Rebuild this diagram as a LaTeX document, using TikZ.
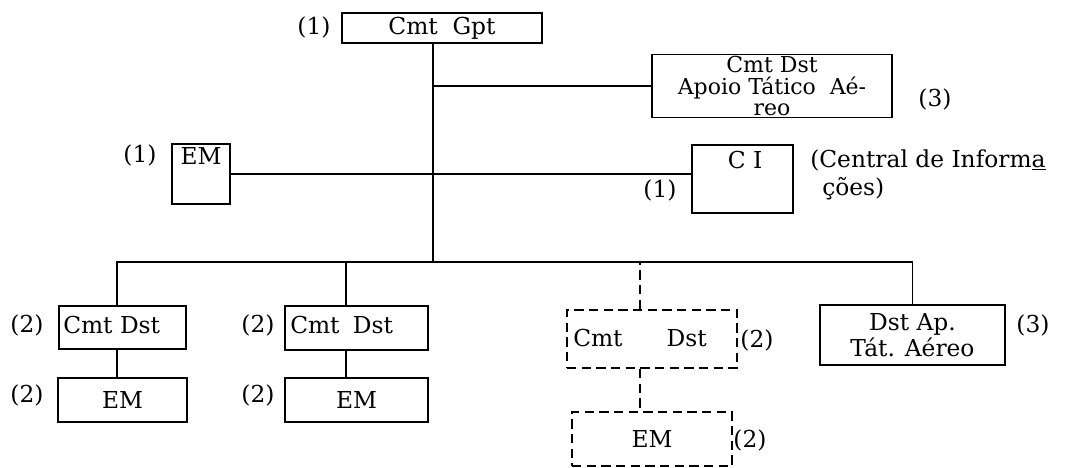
\documentclass[tikz,border=0pt]{standalone}
\usepackage{fontspec}
\setmainfont{DejaVu Serif}

\begin{document}
\begin{tikzpicture}[x=0.75pt,y=-0.75pt,
        font=\fontsize{17.5}{20}\selectfont,
        box/.style={draw, line width=1.2pt, inner sep=0pt},
        dbox/.style={box, line width=1.7pt, dash pattern=on 7pt off 4pt},
        wire/.style={line width=1.2pt},
        dwire/.style={line width=1.7pt, dash pattern=on 7pt off 4pt},
        tag/.style={inner sep=0pt}]
    \useasboundingbox (0,0) rectangle (1065,468);

    % command post and its staff
    \node[box, minimum width=150pt, minimum height=22.5pt] (gpt) at (442,28) {Cmt\ \ Gpt};
    \node[box, minimum width=180pt, minimum height=47pt, align=center,
          font=\fontsize{16.5}{16}\selectfont] (apoio) at (772,86) {Cmt Dst\\Apoio Tático\ \ Aé-\\reo};
    \node[box, minimum width=43.5pt, minimum height=45pt] (em0) at (201,174) {};
    \node[box, minimum width=75.75pt, minimum height=51pt] (ci) at (742.5,179) {};
    \node (em0t) at (201,156) {EM};
    \node (cit) at (745,160) {C I};

    \node[tag] (tgpt) at (314,27) {(1)};
    \node[tag] (tapoio) at (935,99) {(3)};
    \node[tag] (tem0) at (140,155) {(1)};
    \node[tag] (tci) at (660,190) {(1)};
    \node[tag, anchor=west] (cinfo) at (810,160) {(Central de Inform\underline{a}};
    \node[tag, anchor=west] (cinfob) at (822,189) {ções)};

    % detachments
    \node[box, minimum width=95.25pt, minimum height=32.25pt] (cd1) at (122.5,327.5) {};
    \node[box, minimum width=96.75pt, minimum height=33pt] (em1) at (122.5,400) {EM};
    \node[box, minimum width=107.25pt, minimum height=33pt] (cd2) at (356.5,328) {};
    \node[box, minimum width=107.25pt, minimum height=33pt] (em2) at (356.5,400) {EM};
    \node[dbox, minimum width=127.5pt, minimum height=43.5pt] (cd3) at (652,339) {};
    \node[dbox, minimum width=120pt, minimum height=40.5pt] (em3) at (652,439) {EM};
    \node[box, minimum width=138.75pt, minimum height=45pt, align=center] (dap) at (912.5,335) {Dst Ap.\\Tát. Aéreo};
    \node[anchor=west, inner sep=0pt] (cd1t) at (63,325) {Cmt Dst};
    \node[anchor=west, inner sep=0pt] (cd2t) at (290,325) {Cmt\hspace{10pt}Dst};
    \node[anchor=west, inner sep=0pt] (cd3t) at (573,338) {Cmt\hspace{33pt}Dst};

    \node[tag] (tcd1) at (27,325) {(2)};
    \node[tag] (tem1) at (27,395) {(2)};
    \node[tag] (tcd2) at (258,325) {(2)};
    \node[tag] (tem2) at (258,395) {(2)};
    \node[tag] (tcd3) at (757,340) {(2)};
    \node[tag] (tem3) at (750,440) {(2)};
    \node[tag] (tdap) at (1033,325) {(3)};

    % lines
    \coordinate (hub) at (433,262);
    \draw[wire] ([xshift=-6.75pt]gpt.south) -- (hub);
    \draw[wire] (apoio.west -| hub) -- (apoio.west);
    \draw[wire] (em0.east) -- (em0.east -| ci.west);
    \draw[wire] ([xshift=-4pt]cd1.north) |- (dap.north |- hub) -- (dap.north);
    \draw[wire] ([xshift=-8pt]cd2.north) -- ([xshift=-8pt]cd2.north |- hub);
    \draw[dwire] ([xshift=-9pt]cd3.north) -- ([xshift=-9pt]cd3.north |- hub);
    \draw[wire] ([xshift=-4pt]cd1.south) -- ([xshift=-4pt]em1.north);
    \draw[wire] ([xshift=-8pt]cd2.south) -- ([xshift=-8pt]em2.north);
    \draw[dwire] ([xshift=-9pt]cd3.south) -- ([xshift=-9pt]em3.north);
\end{tikzpicture}
\end{document}
